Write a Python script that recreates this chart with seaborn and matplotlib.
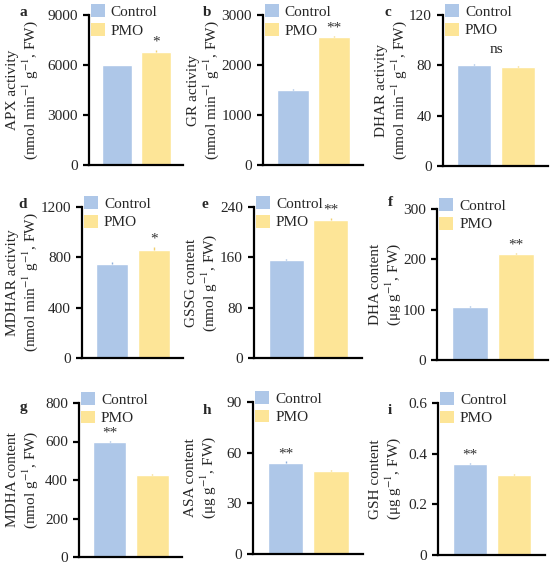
import numpy as np
import pandas as pd
import matplotlib
matplotlib.use("Agg")
import matplotlib.pyplot as plt
from matplotlib.patches import Patch
import seaborn as sns

# data
groups = ["Control", "PMO"]
panels = ["a", "b", "c", "d", "e", "f", "g", "h", "i"]
control = [6000, 1500, 80, 750, 155, 105, 600, 54, 0.36]
pmo = [6800, 2560, 79, 860, 220, 210, 425, 49, 0.315]
err_control = [30, 15, 0.8, 15, 2, 1.5, 5, 0.8, 0.004]
err_pmo = [120, 15, 0.6, 25, 2, 2, 4, 0.5, 0.003]
signif = ["*", "**", "ns", "*", "**", "**", "**", "**", "**"]
signif_on = ["PMO", "PMO", "both", "PMO", "PMO", "PMO", "Control", "Control", "Control"]
yticks = [[0, 3000, 6000, 9000], [0, 1000, 2000, 3000], [0, 40, 80, 120],
          [0, 400, 800, 1200], [0, 80, 160, 240], [0, 100, 200, 300],
          [0, 200, 400, 600, 800], [0, 30, 60, 90], [0, 0.2, 0.4, 0.6]]
ytick_labels = [["0", "3000", "6000", "9000"], ["0", "1000", "2000", "3000"], ["0", "40", "80", "120"],
                ["0", "400", "800", "1200"], ["0", "80", "160", "240"], ["0", "100", "200", "300"],
                ["0", "200", "400", "600", "800"], ["0", "30", "60", "90"], ["0", "0.2", "0.4", "0.6"]]
ylabels = ["APX activity\n(nmol min$^{-1}$ g$^{-1}$, FW)",
           "GR activity\n(nmol min$^{-1}$ g$^{-1}$, FW)",
           "DHAR activity\n(nmol min$^{-1}$ g$^{-1}$, FW)",
           "MDHAR activity\n(nmol min$^{-1}$ g$^{-1}$, FW)",
           "GSSG content\n(nmol g$^{-1}$, FW)",
           "DHA content\n(μg g$^{-1}$, FW)",
           "MDHA content\n(nmol g$^{-1}$, FW)",
           "ASA content\n(μg g$^{-1}$, FW)",
           "GSH content\n(μg g$^{-1}$, FW)"]

colors = {"Control": "#aec7e8", "PMO": "#fde597"}
err_colors = {"Control": "#8fb0dc", "PMO": "#f0d070"}

sns.set_style("ticks")
plt.rcParams["font.family"] = ["Liberation Serif", "DejaVu Serif"]
plt.rcParams["mathtext.fontset"] = "stix"
plt.rcParams["font.size"] = 11

W, H = 550, 568
fig = plt.figure(figsize=(W / 100, H / 100), dpi=100)

# axes boxes in pixels: left, top, right, bottom
boxes = [(89, 15, 183, 165), (263, 15, 363, 165), (443, 15, 548, 166),
         (82, 207, 183, 358), (254, 207, 362, 358), (437, 209, 548, 360),
         (79, 403, 182, 557), (253, 402, 363, 554), (438, 403, 545, 555)]
label_pos = [(23, 13), (207, 13), (388, 13),
             (23, 205), (205, 205), (390, 202),
             (23, 408), (207, 410), (390, 410)]
ylabel_x = [23, 204, 392, 23, 202, 386, 23, 201, 386]

for k in range(9):
    l, t, r, b = boxes[k]
    ax = fig.add_axes([l / W, 1 - b / H, (r - l) / W, (b - t) / H])
    df = pd.DataFrame({"group": groups, "value": [control[k], pmo[k]]})
    sns.barplot(data=df, x="group", y="value", hue="group", palette=colors,
                width=0.78, legend=False, errorbar=None, ax=ax, saturation=1)
    errs = [err_control[k], err_pmo[k]]
    for j, g in enumerate(groups):
        ax.errorbar(j, df["value"][j], yerr=[[0], [errs[j]]], fmt="none",
                    ecolor=err_colors[g], elinewidth=1, capsize=0)
    top = yticks[k][-1]
    ax.set_ylim(0, top)
    ax.set_xlim(-0.72, 1.7)
    ax.set_yticks(yticks[k])
    ax.set_yticklabels(ytick_labels[k])
    ax.set_xticks([])
    ax.set_xlabel("")
    ax.set_ylabel(ylabels[k], fontsize=11, linespacing=1.15)
    ax.yaxis.label.set_va("center")
    ax.yaxis.set_label_coords((ylabel_x[k] - l) / (r - l), 0.5)
    sns.despine(ax=ax)
    for s in ["left", "bottom"]:
        ax.spines[s].set_linewidth(1.6)
        ax.spines[s].set_color("black")
    ax.tick_params(axis="y", width=1.6, length=4, color="black", pad=4, labelsize=11)

    # significance marks
    if signif_on[k] == "both":
        ytxt = max(control[k], pmo[k]) + max(errs)
        ax.annotate(signif[k], (0.5, ytxt), xytext=(0, 6), textcoords="offset points",
                    ha="center", va="bottom", fontsize=11)
    else:
        j = groups.index(signif_on[k])
        ytxt = df["value"][j] + errs[j]
        ax.annotate(signif[k], (j, ytxt), xytext=(0, 1), textcoords="offset points",
                    ha="center", va="bottom", fontsize=11, color="#333333")

    handles = [Patch(facecolor=colors[g], edgecolor="none") for g in groups]
    ax.legend(handles, groups, loc="upper left", bbox_to_anchor=(0.02, 1.07),
              frameon=False, handlelength=0.9, handleheight=0.9, handletextpad=0.4,
              labelspacing=0.25, borderpad=0, borderaxespad=0, fontsize=11)

    fig.text(label_pos[k][0] / W, 1 - label_pos[k][1] / H, panels[k],
             fontweight="bold", fontsize=11, ha="center", va="center")

fig.savefig("out.png", dpi=100)
